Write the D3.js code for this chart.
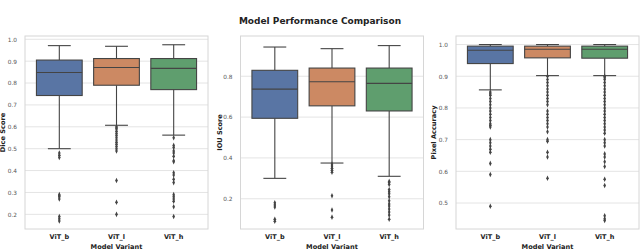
<!DOCTYPE html>
<html>
<head>
<meta charset="utf-8">
<script src="https://cdn.jsdelivr.net/npm/d3@7"></script>
<style>
  body { margin: 0; background: #fff; }
  text { font-family: "DejaVu Sans", sans-serif; }
</style>
</head>
<body>
<svg id="mychart"></svg>
<script>
const width = 640
const height = 249

const variants = ["ViT_b", "ViT_l", "ViT_h"]
const colors = ["#5975a4", "#cc8963", "#5f9e6e"]

// [lower whisker, q1, median, q3, upper whisker]
const diceStats = [
  [0.50, 0.743, 0.848, 0.905, 0.971],
  [0.607, 0.790, 0.871, 0.912, 0.968],
  [0.562, 0.770, 0.867, 0.912, 0.975]
]
const diceOutliers = [
  [0.48, 0.47, 0.46, 0.29, 0.285, 0.28, 0.27, 0.19, 0.18, 0.17],
  [0.60, 0.595, 0.59, 0.58, 0.57, 0.56, 0.55, 0.54, 0.53, 0.52, 0.51, 0.50, 0.49, 0.355, 0.255, 0.20],
  [0.55, 0.515, 0.505, 0.49, 0.48, 0.465, 0.445, 0.44, 0.39, 0.38, 0.36, 0.345, 0.29, 0.28, 0.27, 0.26, 0.235, 0.19]
]
const diceTicks = [0.2, 0.3, 0.4, 0.5, 0.6, 0.7, 0.8, 0.9, 1.0]

const iouStats = [
  [0.30, 0.594, 0.737, 0.829, 0.943],
  [0.375, 0.655, 0.773, 0.840, 0.935],
  [0.310, 0.630, 0.765, 0.840, 0.950]
]
const iouOutliers = [
  [0.18, 0.17, 0.16, 0.10, 0.09],
  [0.37, 0.36, 0.35, 0.34, 0.33, 0.215, 0.145, 0.11],
  [0.285, 0.28, 0.27, 0.245, 0.235, 0.225, 0.21, 0.19, 0.175, 0.165, 0.15, 0.135, 0.12, 0.10]
]
const iouTicks = [0.2, 0.4, 0.6, 0.8]

const pixStats = [
  [0.857, 0.940, 0.982, 0.995, 1.0],
  [0.902, 0.958, 0.985, 0.995, 1.0],
  [0.902, 0.957, 0.985, 0.995, 1.0]
]
const pixOutliers = [
  [0.85, 0.845, 0.84, 0.83, 0.82, 0.81, 0.80, 0.79, 0.78, 0.77, 0.76, 0.75, 0.745, 0.74, 0.70, 0.69, 0.68, 0.67, 0.66, 0.625, 0.59, 0.49],
  [0.90, 0.89, 0.88, 0.87, 0.86, 0.85, 0.84, 0.83, 0.82, 0.81, 0.79, 0.78, 0.77, 0.76, 0.75, 0.74, 0.725, 0.70, 0.695, 0.66, 0.645, 0.578],
  [0.90, 0.895, 0.89, 0.88, 0.87, 0.86, 0.85, 0.84, 0.83, 0.82, 0.81, 0.80, 0.79, 0.78, 0.77, 0.76, 0.75, 0.74, 0.73, 0.72, 0.70, 0.69, 0.68, 0.655, 0.645, 0.63, 0.615, 0.575, 0.555, 0.46, 0.45, 0.445]
]
const pixTicks = [0.5, 0.6, 0.7, 0.8, 0.9, 1.0]

const panels = [
  {label: "Dice Score", stats: diceStats, outliers: diceOutliers, ticks: diceTicks, domain: [0.133, 1.015], left: 25, labelX: 3},
  {label: "IOU Score", stats: iouStats, outliers: iouOutliers, ticks: iouTicks, domain: [0.052, 0.997], left: 240.5, labelX: 219.5},
  {label: "Pixel Accuracy", stats: pixStats, outliers: pixOutliers, ticks: pixTicks, domain: [0.418, 1.027], left: 456, labelX: 434}
]

const plotTop = 36, plotBottom = 229, pw = 183
const edge = "#444"

const svg = d3.select("#mychart").attr("width", width).attr("height", height)

svg.append("text")
  .attr("x", 320).attr("y", 23.5)
  .attr("text-anchor", "middle")
  .attr("font-size", 9).attr("font-weight", "bold")
  .attr("fill", "#222")
  .text("Model Performance Comparison")

panels.forEach(p => {
  const x = d3.scaleBand().domain(variants).range([p.left, p.left + pw]).padding(0.2)
  const y = d3.scaleLinear().domain(p.domain).range([plotBottom, plotTop])
  const g = svg.append("g")

  // grid
  g.append("g").selectAll("line").data(p.ticks).join("line")
    .attr("x1", p.left).attr("x2", p.left + pw)
    .attr("y1", d => y(d)).attr("y2", d => y(d))
    .attr("stroke", "#e4e4e4").attr("stroke-width", 1)

  // frame
  g.append("rect")
    .attr("x", p.left).attr("y", plotTop).attr("width", pw).attr("height", plotBottom - plotTop)
    .attr("fill", "none").attr("stroke", "#d6d6d6").attr("stroke-width", 1)

  // y axis
  const ya = g.append("g")
    .attr("transform", `translate(${p.left},0)`)
    .call(d3.axisLeft(y).tickValues(p.ticks).tickFormat(d3.format(".1f")).tickSize(0).tickPadding(8))
  ya.select(".domain").remove()
  ya.selectAll("text").attr("font-size", 5.8).attr("fill", "#555").attr("font-family", "DejaVu Sans")

  // x axis
  const xa = g.append("g")
    .attr("transform", `translate(0,${plotBottom})`)
    .call(d3.axisBottom(x).tickSize(0).tickPadding(5))
  xa.select(".domain").remove()
  xa.selectAll("text").attr("font-size", 6.5).attr("font-weight", "bold").attr("fill", "#222").attr("font-family", "DejaVu Sans")

  g.append("text")
    .attr("transform", `translate(${p.labelX},${(plotTop + plotBottom) / 2}) rotate(-90)`)
    .attr("text-anchor", "middle").attr("dominant-baseline", "central")
    .attr("font-size", 6.6).attr("font-weight", "bold").attr("fill", "#222")
    .text(p.label)

  g.append("text")
    .attr("x", p.left + pw / 2).attr("y", 248.5)
    .attr("text-anchor", "middle")
    .attr("font-size", 6.6).attr("font-weight", "bold").attr("fill", "#222")
    .text("Model Variant")

  variants.forEach((v, i) => {
    const [lo, q1, med, q3, hi] = p.stats[i]
    const bx = x(v), bw = x.bandwidth(), cx = bx + bw / 2
    const bg = g.append("g").attr("stroke", edge).attr("stroke-width", 1.1)
    bg.append("line").attr("x1", cx).attr("x2", cx).attr("y1", y(q3)).attr("y2", y(hi))
    bg.append("line").attr("x1", cx).attr("x2", cx).attr("y1", y(q1)).attr("y2", y(lo))
    bg.append("line").attr("x1", cx - bw / 4).attr("x2", cx + bw / 4).attr("y1", y(hi)).attr("y2", y(hi))
    bg.append("line").attr("x1", cx - bw / 4).attr("x2", cx + bw / 4).attr("y1", y(lo)).attr("y2", y(lo))
    bg.append("rect").attr("x", bx).attr("width", bw)
      .attr("y", y(q3)).attr("height", y(q1) - y(q3))
      .attr("fill", colors[i])
    bg.append("line").attr("x1", bx).attr("x2", bx + bw).attr("y1", y(med)).attr("y2", y(med))

    g.append("g").selectAll("path").data(p.outliers[i]).join("path")
      .attr("d", d3.symbol(d3.symbolDiamond, 9))
      .attr("transform", d => `translate(${cx},${y(d)}) scale(0.8,1)`)
      .attr("fill", edge)
  })
})
</script>
</body>
</html>
